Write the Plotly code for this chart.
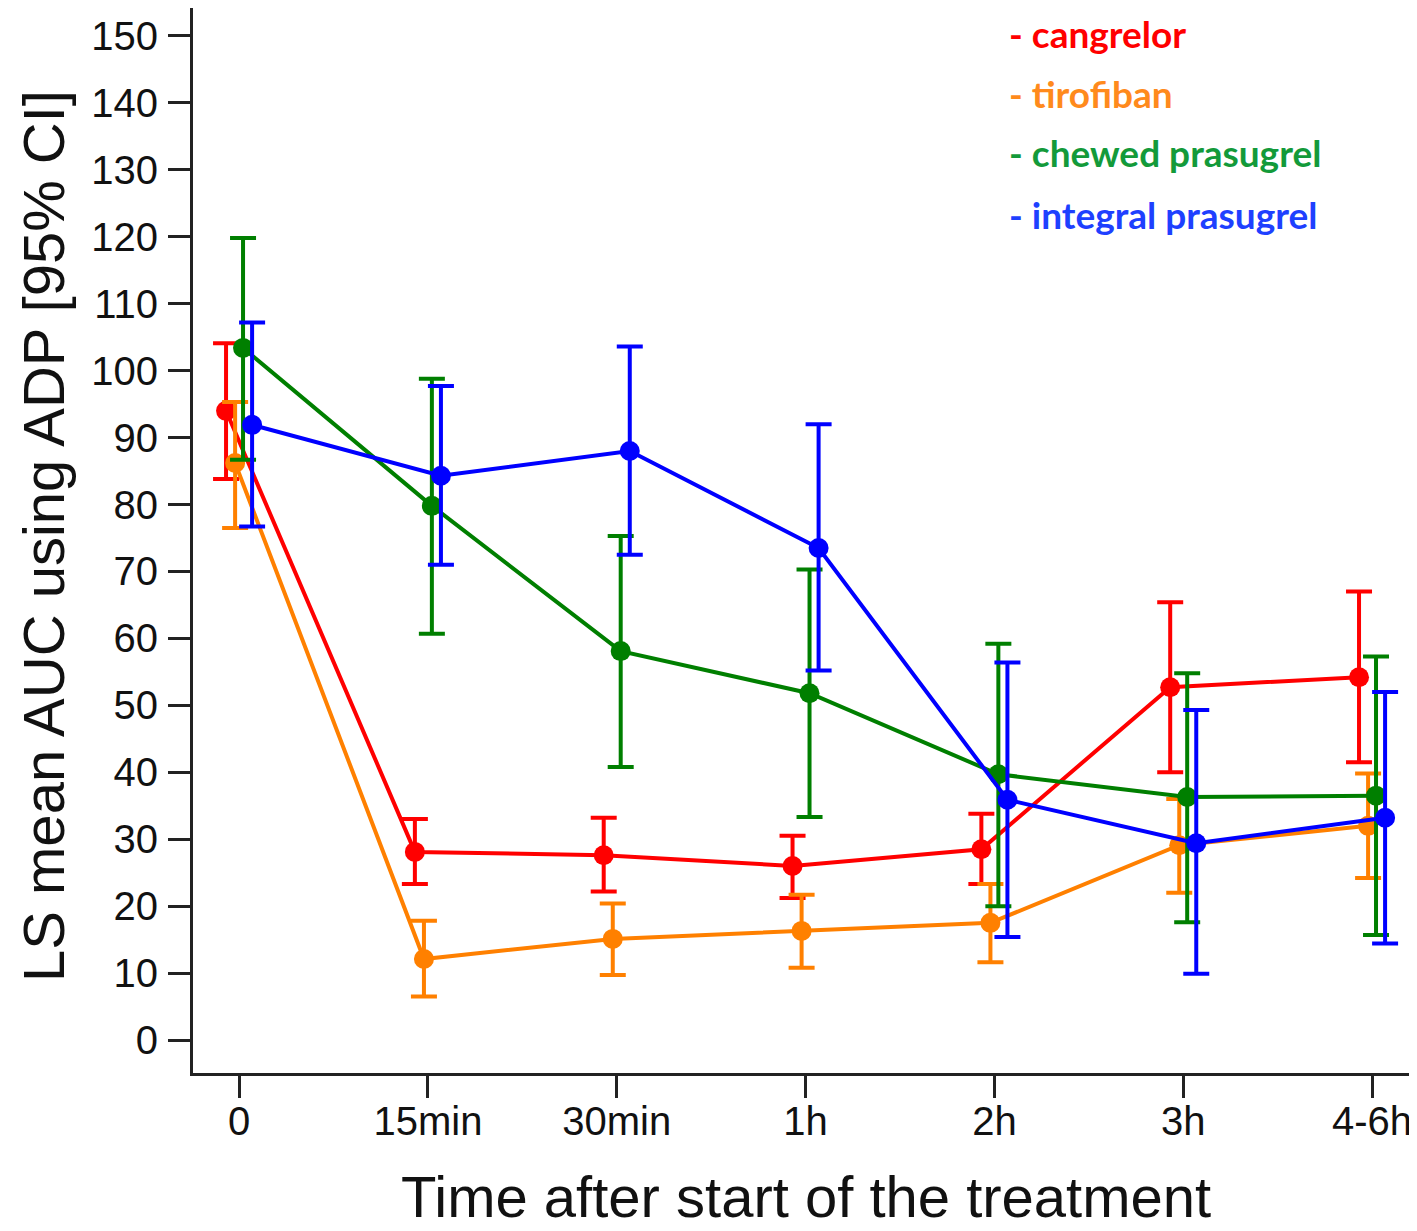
import plotly.graph_objects as go

categories = ["0", "15min", "30min", "1h", "2h", "3h", "4-6h"]
series_names = ["cangrelor", "tirofiban", "chewed prasugrel", "integral prasugrel"]

cangrelor = [94.0, 28.1, 27.6, 26.0, 28.5, 52.7, 54.2]
cangrelor_lo = [83.8, 23.3, 22.2, 21.2, 23.3, 40.0, 41.5]
cangrelor_hi = [104.1, 33.0, 33.2, 30.5, 33.8, 65.4, 67.0]

tirofiban = [86.2, 12.1, 15.1, 16.3, 17.5, 29.1, 32.0]
tirofiban_lo = [76.5, 6.5, 9.7, 10.8, 11.6, 22.0, 24.2]
tirofiban_hi = [95.3, 17.8, 20.4, 21.7, 23.3, 36.0, 39.8]

chewed = [103.4, 79.8, 58.1, 51.8, 39.7, 36.3, 36.5]
chewed_lo = [86.7, 60.7, 40.8, 33.3, 20.0, 17.6, 15.7]
chewed_hi = [119.8, 98.8, 75.3, 70.3, 59.2, 54.8, 57.3]

integral = [91.9, 84.3, 88.0, 73.5, 35.9, 29.4, 33.2]
integral_lo = [76.7, 71.0, 72.5, 55.2, 15.4, 9.9, 14.4]
integral_hi = [107.2, 97.7, 103.6, 92.0, 56.4, 49.3, 52.0]

x_title = "Time after start of the treatment"
y_title = "LS mean AUC using ADP [95% CI]"

line_colors = ["#FF0000", "#FF8000", "#007F00", "#0000FF"]
label_colors = ["#FF0000", "#FF8A1C", "#139A3A", "#1E40FF"]
offsets = [-0.069, -0.021, 0.021, 0.069]

data = [
    (cangrelor, cangrelor_lo, cangrelor_hi),
    (tirofiban, tirofiban_lo, tirofiban_hi),
    (chewed, chewed_lo, chewed_hi),
    (integral, integral_lo, integral_hi),
]

# page has an 8px body margin; figure is sized to fit the 1417x1231 window
PAD = 8
W, H = 1417 - PAD, 1231 - PAD
ml, mr, mt, mb = 185, 0, 0, 158
pw, ph = W - ml - mr, H - mt - mb


def px_to_paper(px, py):
    return (px - PAD - ml) / pw, 1 - (py - PAD - mt) / ph


fig = go.Figure()
for i, (vals, lo, hi) in enumerate(data):
    xs = [k + offsets[i] for k in range(len(categories))]
    fig.add_trace(go.Scatter(
        x=xs, y=vals, mode="lines+markers", name=series_names[i],
        line=dict(color=line_colors[i], width=4),
        marker=dict(color=line_colors[i], size=20),
        error_y=dict(type="data", symmetric=False,
                     array=[h - v for h, v in zip(hi, vals)],
                     arrayminus=[v - l for v, l in zip(vals, lo)],
                     color=line_colors[i], thickness=4, width=13),
        showlegend=False,
    ))

label_px_y = [33, 93, 152, 214]
for i, name in enumerate(series_names):
    ax, ay = px_to_paper(1007, label_px_y[i])
    fig.add_annotation(
        x=ax, y=ay, xref="paper", yref="paper",
        text="<b>- " + name + "</b>", showarrow=False,
        xanchor="left", yanchor="middle",
        font=dict(family="Lato", size=37, color=label_colors[i]),
    )

tx, ty = px_to_paper(806, 1196)
fig.add_annotation(
    x=tx, y=ty, xref="paper", yref="paper", text=x_title, showarrow=False,
    xanchor="center", yanchor="middle",
    font=dict(size=58, family="Liberation Sans, Arial", color="#111111"),
)
tx, ty = px_to_paper(43, 536)
fig.add_annotation(
    x=tx, y=ty, xref="paper", yref="paper", text=y_title, showarrow=False,
    xanchor="center", yanchor="middle", textangle=-90,
    font=dict(size=58, family="Liberation Sans, Arial", color="#111111"),
)

fig.update_layout(
    width=W, height=H,
    margin=dict(l=ml, r=mr, t=mt, b=mb),
    paper_bgcolor="white", plot_bgcolor="white",
    font=dict(family="Liberation Sans, Arial", color="#111111"),
)
fig.update_xaxes(
    range=[-0.244, 6.238], tickmode="array",
    tickvals=list(range(len(categories))), ticktext=categories,
    showgrid=False, zeroline=False, automargin=False,
    showline=True, linecolor="#222222", linewidth=3,
    ticks="outside", ticklen=22, tickwidth=3, tickcolor="#222222",
    tickfont=dict(size=40, family="Liberation Sans, Arial", color="#111111"),
    ticklabelstandoff=-11,
)
fig.update_yaxes(
    range=[-4.93, 154.18], tickmode="array",
    tickvals=list(range(0, 151, 10)),
    showgrid=False, zeroline=False, automargin=False,
    showline=True, linecolor="#222222", linewidth=3,
    ticks="outside", ticklen=22, tickwidth=3, tickcolor="#222222",
    tickfont=dict(size=40, family="Liberation Sans, Arial", color="#111111"),
    ticklabelstandoff=2,
)

fig.write_html("out.html")
